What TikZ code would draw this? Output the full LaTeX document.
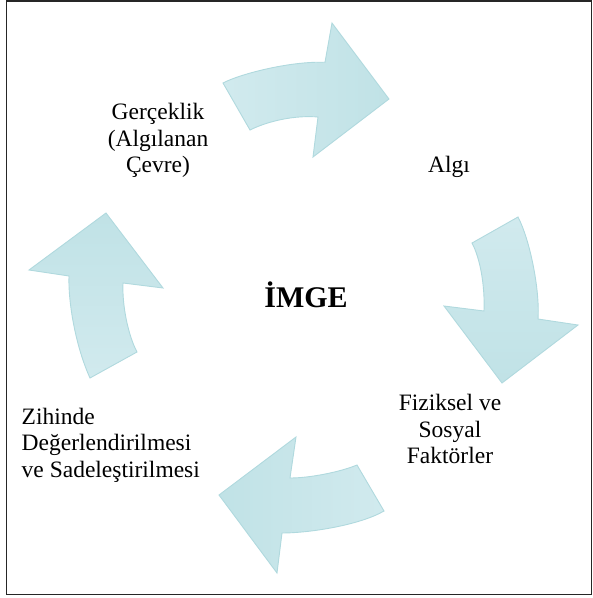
\documentclass[tikz,border=0pt]{standalone}
\usepackage{fontspec}
\setmainfont{Liberation Serif}
\usetikzlibrary{positioning}
\definecolor{arrowlight}{RGB}{209,234,238}
\definecolor{arrowdark}{RGB}{192,226,230}
\definecolor{arrowline}{RGB}{176,217,222}
\begin{document}
\begin{tikzpicture}[x=1pt,y=-1pt,
    bend arrow/.style={draw=arrowline, line width=0.9pt, line join=miter},
    label text/.style={inner sep=0pt, align=center, font=\fontsize{23.5}{26.5}\selectfont}]
\useasboundingbox (0,0) rectangle (593,598);
\draw[line width=1.6pt, draw=black!85] (6.5,1) rectangle (591.5,594.5);
% arrows round the cycle
\path[bend arrow, left color=arrowlight, right color=arrowdark]
    (223,83) .. controls (240,74) and (290,61) .. (325,62.3)
    -- (332,23) -- (389,99) -- (313,157) -- (318,117)
    .. controls (295,115) and (268,121) .. (250,130) -- cycle;
\path[bend arrow, top color=arrowlight, bottom color=arrowdark]
    (518,217) .. controls (530,240) and (540,290) .. (538,319)
    -- (578,325) -- (502,383) -- (444,306) -- (484,311)
    .. controls (485,285) and (480,258) .. (472,243) -- cycle;
\path[bend arrow, right color=arrowlight, left color=arrowdark]
    (384,511) .. controls (360,525) and (310,533) .. (282,533)
    -- (277,573) -- (219,495) -- (296,437) -- (290,478)
    .. controls (310,478) and (340,472) .. (357,465) -- cycle;
\path[bend arrow, bottom color=arrowlight, top color=arrowdark]
    (90,378) .. controls (75,345) and (68,300) .. (69,276)
    -- (29,270) -- (106,213) -- (163,288) -- (123,283)
    .. controls (122,305) and (128,335) .. (137,352) -- cycle;
% texts
\node[label text] (real) at (158,140.5) {Gerçeklik\\(Algılanan\\Çevre)};
\node[label text] (perc) at (449,167) {Algı};
\node[label text] (fact) at (450,429) {Fiziksel ve\\Sosyal\\Faktörler};
\node[label text, align=left, anchor=west] (mind) at (21.5,445) {Zihinde\\Değerlendirilmesi\\ve Sadeleştirilmesi};
\node[inner sep=0pt, anchor=base, font=\fontsize{30}{36}\selectfont\bfseries] (img) at (306,307) {İMGE};
\end{tikzpicture}
\end{document}
